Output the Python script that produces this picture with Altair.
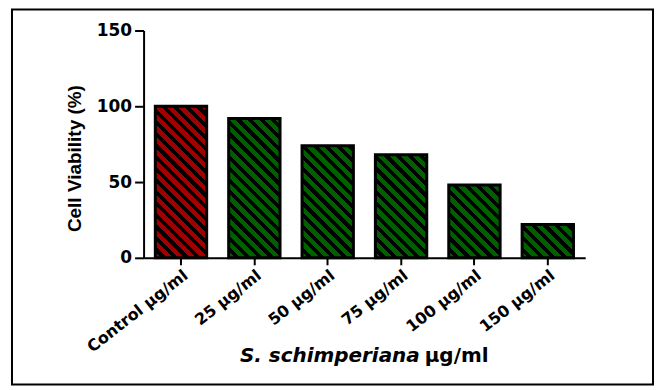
import math
import altair as alt
import pandas as pd

# ---- data ----
categories = ["Control μg/ml", "25 μg/ml", "50 μg/ml", "75 μg/ml", "100 μg/ml", "150 μg/ml"]
values = [100, 92, 74, 68, 48, 22]
bar_colors = ["#A00000", "#006000", "#006000", "#006000", "#006000", "#006000"]
y_ticks = [0, 50, 100, 150]
y_title = "Cell Viability (%)"
x_title_italic = ["S. schimperiana"]
x_title_unit = ["μg/ml"]

df = pd.DataFrame({"category": categories, "value": values})

# ---- layout ----
PLOT_W, PLOT_H = 443, 228
Y_MAX = 150
PAD_INNER, PAD_OUTER = 0.3, 0.16
step = PLOT_W / (len(categories) - PAD_INNER + 2 * PAD_OUTER)
BAR_W = step * (1 - PAD_INNER)


def hatch(color, W, H, period=8.2, dark=0.45):
    """Diagonal '\\' stripes as a linear gradient in bounding-box units."""
    s = (W + H) / (W * W + H * H)
    L = (W + H) / math.sqrt(2)
    stops = []
    k = 0
    while True:
        a = k * period / L
        if a >= 1:
            break
        b = min(1.0, (k * period + period * (1 - dark)) / L)
        c = min(1.0, (k + 1) * period / L)
        stops += [(a, color), (b, color), (b, "black"), (c, "black")]
        k += 1
    return alt.LinearGradient(
        gradient="linear",
        stops=[alt.GradientStop(offset=o, color=col) for o, col in stops],
        x1=0, y1=1, x2=s * W, y2=1 - s * H,
    )


X = alt.X(
    "category:N",
    sort=categories,
    scale=alt.Scale(domain=categories, paddingInner=PAD_INNER, paddingOuter=PAD_OUTER),
    axis=alt.Axis(
        title="",
        labelAngle=-38,
        labelFont="DejaVu Sans",
        labelFontWeight="bold",
        labelFontSize=16,
        labelColor="black",
        labelPadding=2,
        tickSize=7,
        tickWidth=2,
        tickColor="black",
        domainColor="black",
        domainWidth=2,
    ),
)
Y = alt.Y(
    "value:Q",
    scale=alt.Scale(domain=[0, Y_MAX], nice=False),
    axis=alt.Axis(
        values=y_ticks,
        title=y_title,
        titleFont="Liberation Sans",
        titleFontWeight="bold",
        titleFontSize=19,
        titleColor="black",
        titleX=-69,
        titleY=128,
        titleBaseline="middle",
        titleAlign="center",
        labelFont="DejaVu Sans",
        labelFontWeight="bold",
        labelFontSize=17,
        labelColor="black",
        labelPadding=3,
        tickSize=9,
        tickWidth=2,
        tickColor="black",
        domainColor="black",
        domainWidth=2,
        grid=False,
    ),
)

layers = []
frame = alt.Chart(pd.DataFrame({"f": [0]})).mark_rect(
    fill="white", fillOpacity=0, stroke="black", strokeWidth=2
).encode(x=alt.value(-132), x2=alt.value(511), y=alt.value(-21), y2=alt.value(355))
layers.append(frame)

for cat, val, col in zip(categories, values, bar_colors):
    H = val * PLOT_H / Y_MAX
    layers.append(
        alt.Chart(df)
        .transform_filter(alt.datum.category == cat)
        .mark_bar(fill=hatch(col, BAR_W, H), stroke="black", strokeWidth=3)
        .encode(x=X, y=Y)
    )

t1 = alt.Chart(pd.DataFrame({"t": x_title_italic})).mark_text(
    align="right", baseline="alphabetic", font="DejaVu Sans", fontWeight="bold",
    fontStyle="italic", fontSize=20, color="black"
).encode(text="t:N", x=alt.value(277), y=alt.value(333))
t2 = alt.Chart(pd.DataFrame({"t": x_title_unit})).mark_text(
    align="left", baseline="alphabetic", font="DejaVu Sans", fontWeight="bold",
    fontSize=20, color="black"
).encode(text="t:N", x=alt.value(282), y=alt.value(333))
layers += [t1, t2]

chart = (
    alt.layer(*layers)
    .properties(width=PLOT_W, height=PLOT_H, background="white",
                padding={"left": 3, "top": 0, "right": 0, "bottom": 0})
    .configure_view(stroke="transparent", strokeWidth=0)
)

chart.save("out.html", embed_options={"renderer": "svg", "actions": False})
